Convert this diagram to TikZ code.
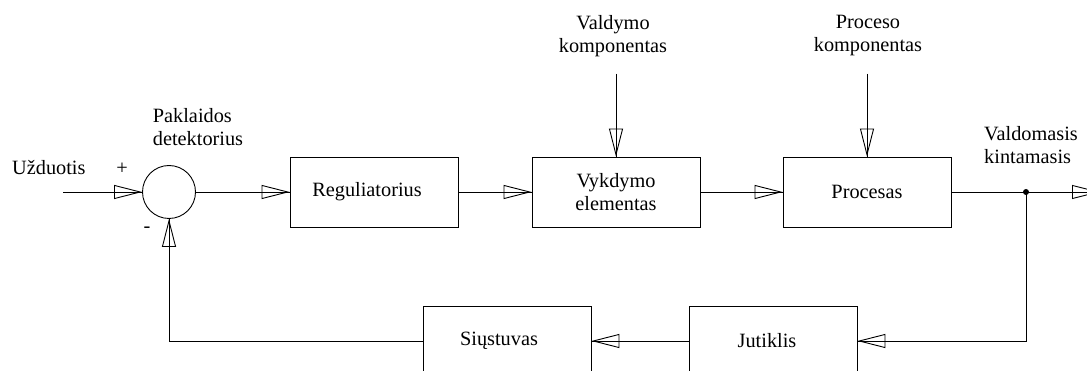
\documentclass[tikz,border=0pt]{standalone}
\usepackage{fontspec}
\setmainfont{Liberation Serif}
\usetikzlibrary{arrows.meta}
\tikzset{
  blk/.style={draw, line width=0.9pt, minimum width=168pt, minimum height=70pt, inner sep=2pt, align=center},
  sumc/.style={draw, line width=0.9pt, circle, minimum size=53pt, inner sep=0pt},
  txt/.style={inner sep=0pt, align=center},
  flow/.style={line width=0.9pt, postaction={draw, line width=0.9pt, -{Triangle[open, length=28pt, width=14pt]}}},
  wire/.style={line width=0.9pt},
}

\begin{document}
\begin{tikzpicture}[x=1pt, y=-1pt, font=\fontsize{20.3}{23}\selectfont]
  \useasboundingbox (0,0) rectangle (1087,371);

  % --- blocks ---
  \node[sumc] (det)  at (169,192) {};
  \node[blk]  (reg)  at (374,192) {Reguliatorius\hspace*{14pt}};
  \node[blk]  (vyk)  at (616,192) {Vykdymo\\elementas};
  \node[blk]  (proc) at (867,192) {Procesas};
  \node[blk]  (jut)  at (773,341) {Jutiklis\hspace*{12pt}};
  \node[blk]  (siu)  at (507,341) {Siųstuvas\hspace*{16pt}};

  % --- labels ---
  \node[txt, anchor=west] (uzd) at (12,168) {Užduotis};
  \node[txt] (plus)  at (122,169) {+};
  \node[txt] (minus) at (147,230) {-};
  \node[txt, align=left] (pdet) at (198,127) {Paklaidos\\detektorius};
  \node[txt] (vkomp) at (613,36) {Valdymo\\komponentas};
  \node[txt] (pkomp) at (868,36) {Proceso\\komponentas};
  \node[txt, align=left] (vkint) at (1031,145) {Valdomasis\\kintamasis};

  % --- free ends ---
  \coordinate (in)  at (63,192);
  \coordinate (vk)  at (616,74);
  \coordinate (pk)  at (867,74);
  \coordinate (br)  at (1026,192);
  \coordinate (out) at (1100,192);

  % --- forward path ---
  \draw[flow] (in) -- (det);
  \draw[flow] (det) -- (reg);
  \draw[flow] (reg) -- (vyk);
  \draw[flow] (vk) -- (vyk);
  \draw[flow] (vyk) -- (proc);
  \draw[flow] (pk) -- (proc);
  \draw[wire] (proc) -- (br);
  \draw[flow] (br) -- (out);
  \fill (br) circle (3pt);

  % --- feedback path ---
  \draw[flow] (br) |- (jut);
  \draw[flow] (jut) -- (siu);
  \draw[flow] (siu) -| (det);
\end{tikzpicture}
\end{document}
